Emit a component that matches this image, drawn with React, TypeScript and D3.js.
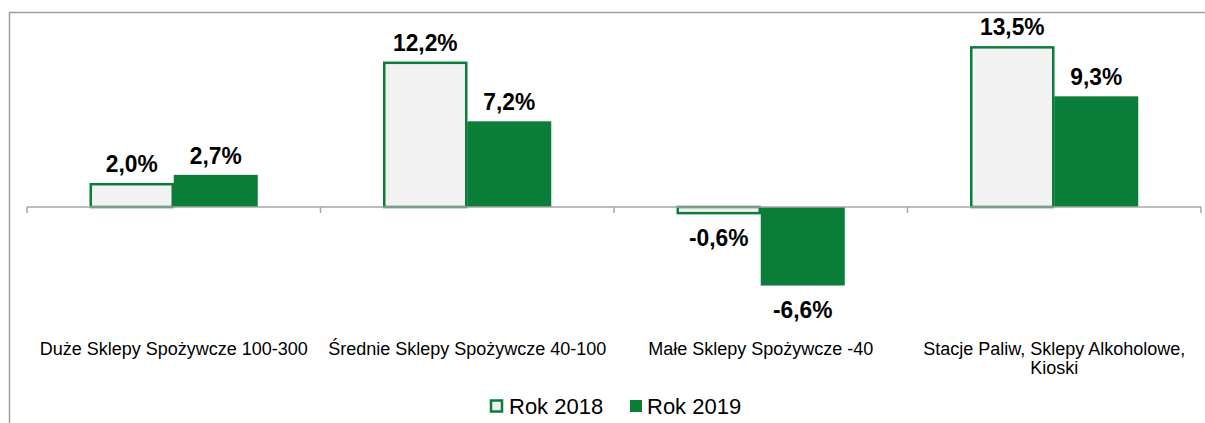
import React from "react";
import * as d3 from "d3";

const categories = [
  ["Duże Sklepy Spożywcze 100-300"],
  ["Średnie Sklepy Spożywcze 40-100"],
  ["Małe Sklepy Spożywcze -40"],
  ["Stacje Paliw, Sklepy Alkoholowe,", "Kioski"],
];
const series = ["Rok 2018", "Rok 2019"];
const values2018 = [2.0, 12.2, -0.6, 13.5];
const values2019 = [2.7, 7.2, -6.6, 9.3];

const W = 1205;
const H = 423;
const GREEN = "#0a7d38";
const LIGHT = "#f2f2f2";
const FONT = "'Liberation Sans', Arial, sans-serif";

export default function App() {
  const keys = categories.map((_, i) => String(i));
  const x0 = d3.scaleBand<string>().domain(keys).range([27, 1201]).padding(0);
  const bw = x0.bandwidth();
  const x1 = d3
    .scaleBand<string>()
    .domain(series)
    .range([0, bw])
    .paddingInner(0)
    .paddingOuter((bw - 168) / 2 / 84);
  const y = d3.scaleLinear().domain([-8, 16]).range([207 + 8 * 11.9, 207 - 16 * 11.9]);
  const y0 = y(0);
  const fmt = (v: number) => v.toFixed(1).replace(".", ",") + "%";
  const data = [values2018, values2019];

  return (
    <svg width={W} height={H} style={{ display: "block", position: "absolute", left: 0, top: 0 }}>
      <rect x={0} y={0} width={W} height={H} fill="#fff" />
      <path d={`M9.5,${H + 5} V12.5 H${W + 5}`} fill="none" stroke="#a0a0a0" strokeWidth={1.5} />
      {categories.map((cat, ci) =>
        series.map((s, si) => {
          const v = data[si][ci];
          const bx = x0(String(ci))! + x1(s)!;
          const top = Math.min(y(v), y0);
          const h = Math.abs(y(v) - y0);
          const is18 = si === 0;
          const cx = bx + x1.bandwidth() / 2;
          const ly = v >= 0 ? y(v) - 11 : y(v) + 32;
          return (
            <g key={`${ci}-${si}`}>
              <rect
                x={is18 ? bx + 1 : bx}
                y={is18 ? top + (v >= 0 ? 1 : 0) : top}
                width={is18 ? x1.bandwidth() - 2 : x1.bandwidth()}
                height={is18 ? Math.max(h - 1, 0) : h}
                fill={is18 ? LIGHT : GREEN}
                stroke={is18 ? GREEN : "none"}
                strokeWidth={2.5}
              />
              <text
                transform={`translate(${cx},${ly}) scale(0.95,1)`}
                textAnchor="middle"
                fontFamily={FONT}
                fontWeight="bold"
                fontSize={24}
                fill="#000"
              >
                {fmt(v)}
              </text>
            </g>
          );
        })
      )}
      <line x1={27} x2={1201} y1={y0} y2={y0} stroke="#a6a6a6" strokeWidth={1.5} />
      {d3.range(categories.length + 1).map((i) => {
        const tx = 27 + i * bw;
        return <line key={i} x1={tx} x2={tx} y1={y0} y2={y0 + 6} stroke="#a6a6a6" strokeWidth={1.5} />;
      })}
      {categories.map((cat, ci) => (
        <text
          key={ci}
          x={x0(String(ci))! + bw / 2}
          y={355}
          textAnchor="middle"
          fontFamily={FONT}
          fontSize={18}
          fill="#000"
        >
          {cat.map((line, li) => (
            <tspan key={li} x={x0(String(ci))! + bw / 2} dy={li === 0 ? 0 : 19}>
              {line}
            </tspan>
          ))}
        </text>
      ))}
      <g>
        <rect x={491} y={400.5} width={11} height={11} fill={LIGHT} stroke={GREEN} strokeWidth={2.5} />
        <text x={509} y={414} fontFamily={FONT} fontSize={22} fill="#000">
          {series[0]}
        </text>
        <rect x={630} y={400} width={12} height={12} fill={GREEN} />
        <text x={647} y={414} fontFamily={FONT} fontSize={22} fill="#000">
          {series[1]}
        </text>
      </g>
    </svg>
  );
}
